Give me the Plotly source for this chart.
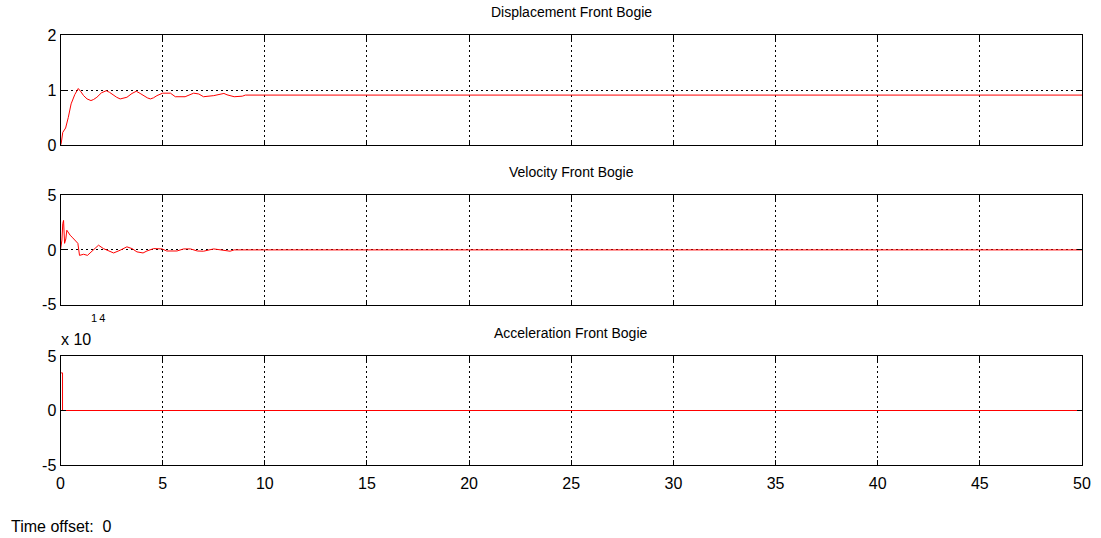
import plotly.graph_objects as go
from plotly.subplots import make_subplots

# ---- data ----
disp_t = [0.0, 0.03, 0.11, 0.25, 0.38, 0.52, 0.70, 0.87, 1.00, 1.13, 1.30, 1.49, 1.62, 1.78, 2.00, 2.24, 2.40,
          2.55, 2.75, 2.92, 3.10, 3.25, 3.50, 3.71, 3.90, 4.07, 4.25, 4.40, 4.55, 4.72, 5.00, 5.38, 5.62,
          6.10, 6.52, 6.77, 7.00, 7.50, 7.75, 8.00, 8.15, 8.50, 8.90, 9.05, 20.0, 35.0, 50.0]
disp_y = [0.0, 0.02, 0.23, 0.31, 0.50, 0.75, 0.92, 1.03, 0.97, 0.90, 0.84, 0.81, 0.83, 0.87, 0.95, 0.99, 0.96,
          0.92, 0.87, 0.84, 0.85, 0.87, 0.94, 0.98, 0.94, 0.90, 0.86, 0.84, 0.86, 0.90, 0.945, 0.945, 0.88,
          0.88, 0.945, 0.93, 0.88, 0.90, 0.92, 0.94, 0.915, 0.88, 0.89, 0.91, 0.91, 0.91, 0.91]

vel_t = [0.0, 0.07, 0.11, 0.15, 0.20, 0.26, 0.31, 0.36, 0.47, 0.60, 0.72, 0.85, 0.93, 1.13, 1.32, 1.62, 1.86,
         2.10, 2.35, 2.60, 2.92, 3.25, 3.50, 3.74, 4.04, 4.23, 4.56, 4.97, 5.20, 5.70, 6.03, 6.36, 6.70,
         7.00, 7.50, 7.80, 8.15, 8.30, 8.50, 20.0, 35.0, 50.0]
vel_y = [0.0, 0.9, 2.4, 2.7, 0.6, 1.0, 1.8, 1.65, 1.35, 1.1, 0.9, 0.6, -0.5, -0.4, -0.5, 0.0, 0.43,
         0.12, -0.1, -0.28, -0.03, 0.28, 0.12, -0.18, -0.28, -0.10, 0.12, 0.09, -0.10, -0.10, 0.09, 0.09, -0.10,
         -0.12, 0.09, 0.03, -0.03, -0.12, 0.0, 0.0, 0.0, 0.0]

acc_scale_exp = 14
acc_t = [0.0, 0.0, 0.05, 0.10, 0.10, 10.0, 30.0, 50.0]
acc_y = [0.0, 3.45, 3.45, 3.45, 0.0, 0.0, 0.0, 0.0]   # in units of 10^14

x_ticks = [0, 5, 10, 15, 20, 25, 30, 35, 40, 45, 50]
x_ticktext = [str(v) for v in x_ticks]
titles = ["Displacement Front Bogie", "Velocity Front Bogie", "Acceleration Front Bogie"]
y_ranges = [[0, 2], [-5, 5], [-5, 5]]
y_ticks = [[0, 1, 2], [-5, 0, 5], [-5, 0, 5]]
y_ticktext = [["0", "1", "2"], ["-5", "0", "5"], ["-5", "0", "5"]]

# ---- figure ----
W, H = 1101, 538
FONT = "Liberation Sans, Arial"
fig = make_subplots(rows=3, cols=1)

series = [(disp_t, disp_y), (vel_t, vel_y), (acc_t, acc_y)]
for i, (t, y) in enumerate(series):
    fig.add_trace(go.Scatter(x=t, y=y, mode="lines",
                             line=dict(color="#ff0000", width=1.0),
                             fill="toself" if False else None,
                             showlegend=False, hoverinfo="skip"), row=i + 1, col=1)

x0, x1 = 60.5 / W, 1082 / W
panels_px = [(35.3, 145.0), (195.3, 304.5), (356.0, 465.0)]
axis_common = dict(showgrid=True, gridcolor="#000000", griddash="2px,3px", gridwidth=1,
                   zeroline=False, showline=True, linecolor="#000000", linewidth=1,
                   mirror="ticks", ticks="inside", ticklen=5, tickcolor="#000000",
                   automargin=False, tickfont=dict(family=FONT, size=16, color="#000000"))
for i, (top, bot) in enumerate(panels_px):
    xa = "xaxis" if i == 0 else f"xaxis{i+1}"
    ya = "yaxis" if i == 0 else f"yaxis{i+1}"
    fig.layout[xa].update(domain=[x0, x1], range=[0, 50], tickvals=x_ticks, ticktext=x_ticktext,
                          showticklabels=(i == 2), ticklabelstandoff=4, **axis_common)
    fig.layout[ya].update(domain=[1 - bot / H, 1 - top / H], range=y_ranges[i], tickvals=y_ticks[i],
                          ticktext=y_ticktext[i], **axis_common)
    fig.add_annotation(text=titles[i], xref="paper", yref="paper", x=(x0 + x1) / 2,
                       y=1 - (top - 23) / H, xanchor="center", yanchor="middle", showarrow=False,
                       font=dict(family=FONT, size=14, color="#000000"))

# exponent label for acceleration
fig.add_annotation(text="x 10", xref="paper", yref="paper", x=59 / W, y=1 - 339 / H,
                   xanchor="left", yanchor="middle", showarrow=False,
                   font=dict(family=FONT, size=16, color="#000000"))
fig.add_annotation(text="1\u20094", xref="paper", yref="paper", x=89 / W, y=1 - 318 / H,
                   xanchor="left", yanchor="middle", showarrow=False,
                   font=dict(family=FONT, size=11, color="#000000"))

fig.add_annotation(text="Time offset:  0", xref="paper", yref="paper", x=9 / W, y=1 - 526 / H,
                   xanchor="left", yanchor="middle", showarrow=False,
                   font=dict(family=FONT, size=16, color="#000000"))

fig.update_layout(width=W, height=H, margin=dict(l=0, r=0, t=0, b=0, autoexpand=False),
                  paper_bgcolor="#ffffff", plot_bgcolor="#ffffff")

fig.write_html("out.html", config={"displayModeBar": False},
               post_script="document.body.style.margin='0';document.body.style.overflow='hidden';")
